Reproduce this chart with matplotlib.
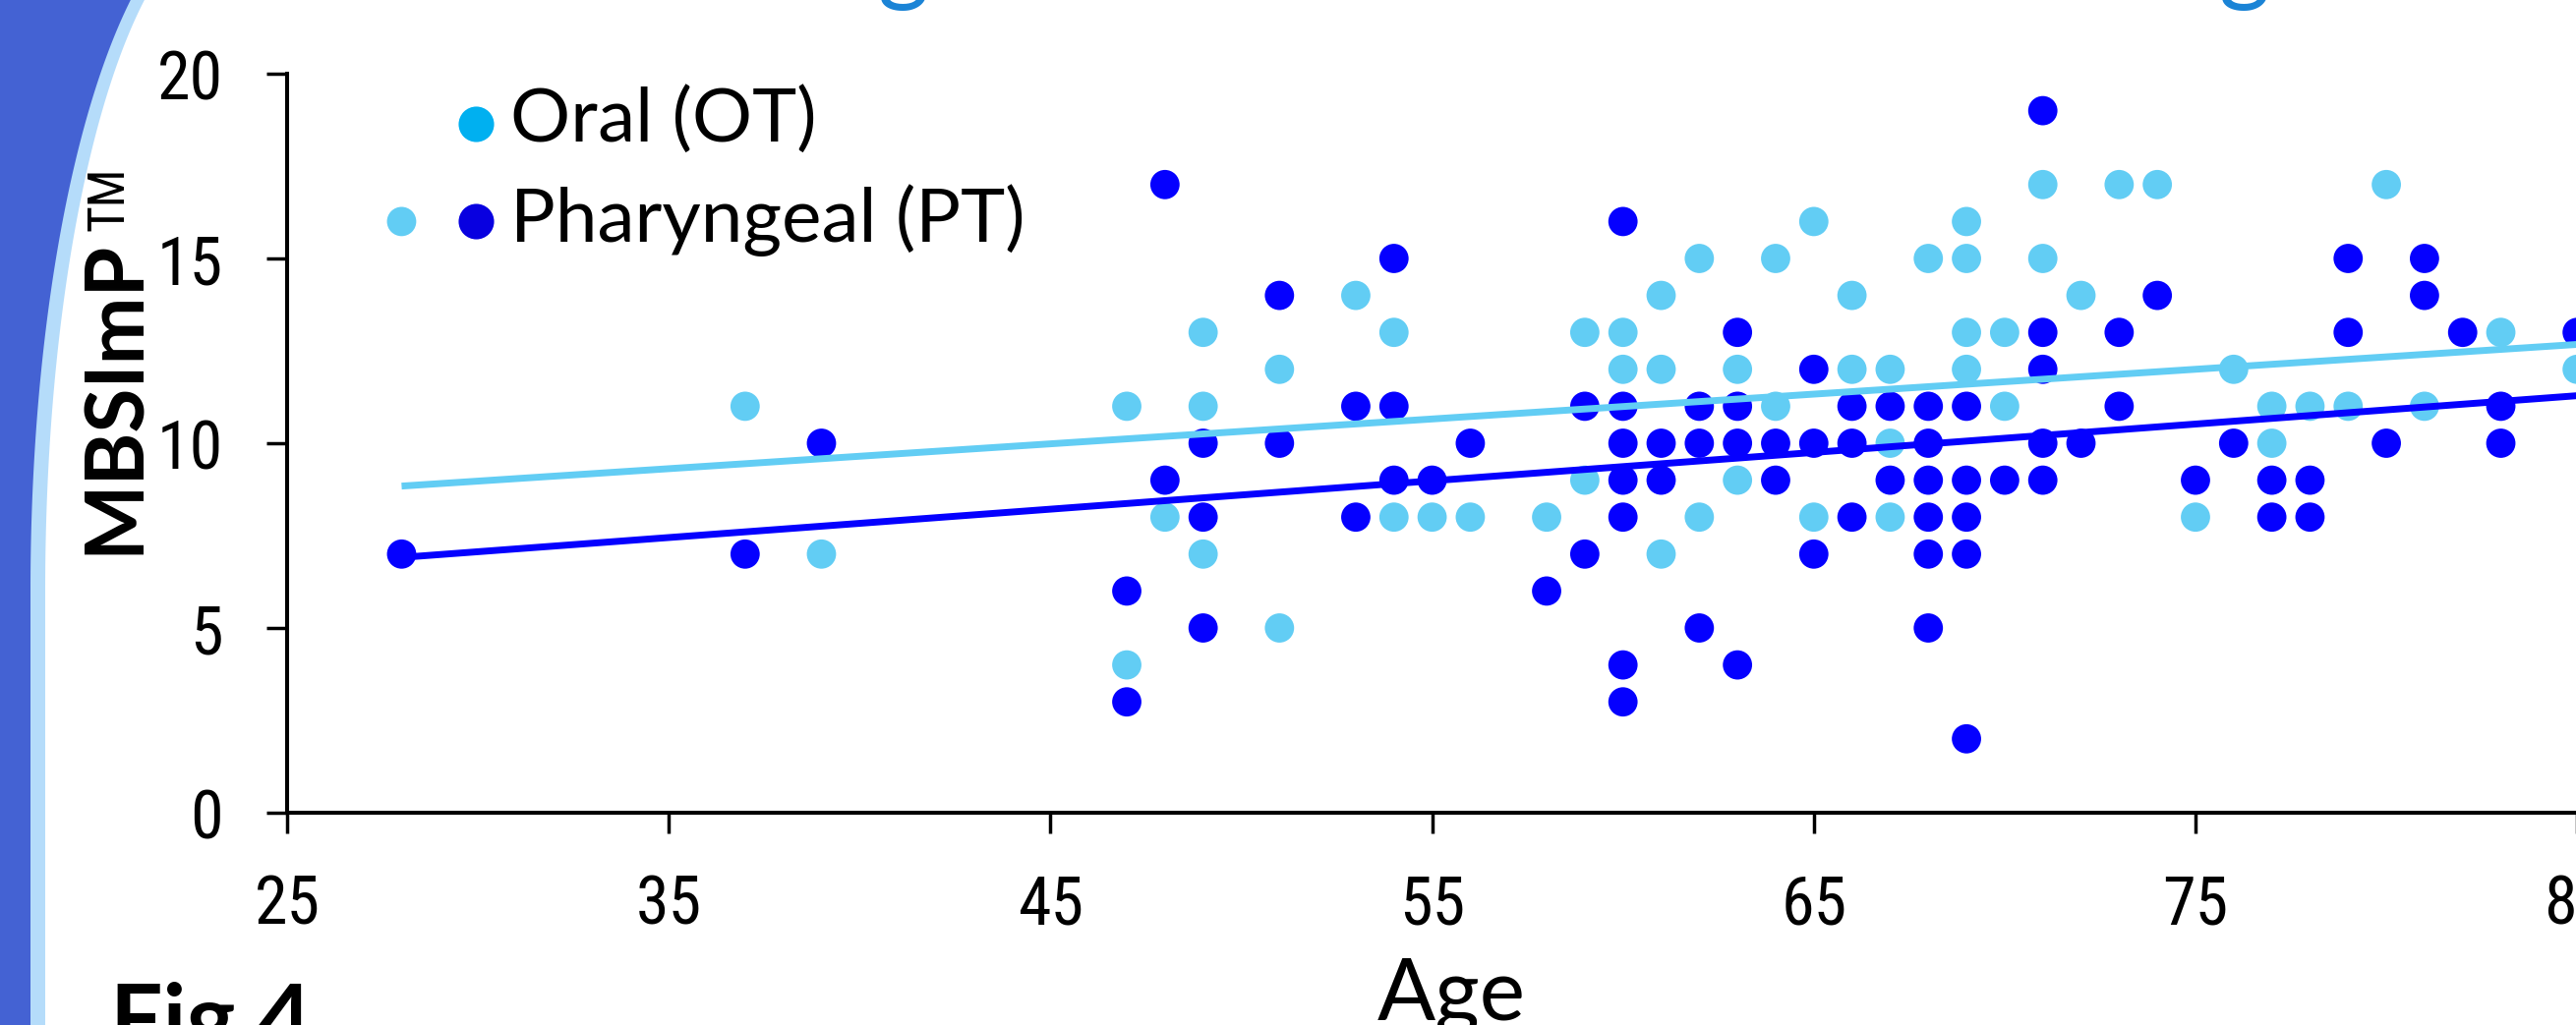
import numpy as np
import matplotlib
matplotlib.use("Agg")
import matplotlib.pyplot as plt
from matplotlib import font_manager
from matplotlib.patches import Polygon

# ---------------- data ----------------
ot_age = [28, 37, 39, 47, 47, 48, 49, 49, 49, 51, 51, 53, 54, 54, 55, 56, 58, 59, 59,
          60, 60, 61, 61, 61, 62, 62, 63, 63, 64, 64, 65, 65, 66, 66, 67, 67, 67, 68,
          69, 69, 69, 69, 70, 70, 71, 71, 72, 73, 74, 75, 76, 77, 77, 78, 79, 80, 81,
          83, 85]
ot_score = [16, 11, 7, 11, 4, 8, 13, 11, 7, 12, 5, 14, 13, 8, 8, 8, 8, 13, 9,
            13, 12, 14, 12, 7, 15, 8, 12, 9, 15, 11, 16, 8, 14, 12, 12, 10, 8, 15,
            16, 15, 13, 12, 13, 11, 17, 15, 14, 17, 17, 8, 12, 11, 10, 11, 11, 17, 11,
            13, 12]

pt_age = [28, 37, 39, 47, 47, 48, 48, 49, 49, 49, 51, 51, 53, 53, 54, 54, 54, 55, 56,
          58, 59, 59, 60, 60, 60, 60, 60, 60, 60, 61, 61, 62, 62, 62, 63, 63, 63, 63,
          64, 64, 65, 65, 65, 66, 66, 66, 67, 67, 68, 68, 68, 68, 68, 68, 69, 69, 69,
          69, 69, 70, 71, 71, 71, 71, 71, 72, 73, 73, 74, 75, 76, 77, 77, 78, 78, 79,
          79, 80, 81, 81, 82, 83, 83, 85]
pt_score = [7, 7, 10, 6, 3, 17, 9, 10, 8, 5, 14, 10, 11, 8, 15, 11, 9, 9, 10,
            6, 11, 7, 16, 11, 10, 9, 8, 4, 3, 10, 9, 11, 10, 5, 13, 11, 10, 4,
            10, 9, 12, 10, 7, 11, 10, 8, 11, 9, 11, 10, 9, 8, 7, 5, 11, 9, 8,
            7, 2, 9, 19, 13, 12, 10, 9, 10, 13, 11, 14, 9, 10, 9, 8, 9, 8, 15,
            13, 10, 15, 14, 13, 11, 10, 13]

# linear trend lines (end values)
trend_age = [28, 90]
ot_trend = [8.84, 13.01]
pt_trend = [6.91, 11.67]

x_ticks = [25, 35, 45, 55, 65, 75, 85]
y_ticks = [0, 5, 10, 15, 20]
legend_labels = ["Oral (OT)", "Pharyngeal (PT)"]
x_label = "Age"
y_label = "MBSImP"
y_label_mark = "TM"
fig_label = "Fig 4"

# ---------------- styles ----------------
LIGHT = "#62CDF4"
DARK = "#0500FF"
LEG_LIGHT = "#00B0F0"
LEG_DARK = "#0800E0"
BAND_DARK = "#4462D3"
BAND_LIGHT = "#B5DCFA"
TITLE_BLUE = "#1B84D6"

avail = {f.name for f in font_manager.fontManager.ttflist}


def pick(*names):
    for n in names:
        if n in avail:
            return n
    return "DejaVu Sans"


NARROW = pick("Liberation Sans Narrow", "Roboto Condensed", "Liberation Sans")
MAIN = pick("Lato", "Open Sans", "Noto Sans")

W, H, DPI = 2620, 1043, 100
fig = plt.figure(figsize=(W / DPI, H / DPI), dpi=DPI)
fig.patch.set_facecolor("white")

# background overlay in pixel coordinates (y from top)
bg = fig.add_axes([0, 0, 1, 1], zorder=0)
bg.set_xlim(0, W)
bg.set_ylim(H, 0)
bg.axis("off")


def edge(cx, cy, rx, ry, y):
    t = np.clip((cy - y) / ry, -1, 1)
    return cx - rx * np.sqrt(1 - t ** 2)


yy = np.linspace(600, -120, 300)
lx = edge(241, 600, 195, 685, yy)
dx = edge(241, 600, 210, 700, yy)
bg.add_patch(Polygon([(0, H + 20), (46, H + 20)] + list(zip(lx, yy)) + [(0, -120)],
                     closed=True, facecolor=BAND_LIGHT, edgecolor="none"))
bg.add_patch(Polygon([(0, H + 20), (31, H + 20)] + list(zip(dx, yy)) + [(0, -120)],
                     closed=True, facecolor=BAND_DARK, edgecolor="none"))

# cut-off title descenders at the top edge
for gx in (919, 2283):
    bg.text(gx, -7, "g", fontsize=72, color=TITLE_BLUE, ha="center", va="baseline",
            family=MAIN)

# main axes
ax = fig.add_axes([292 / W, (H - 827) / H, 2368 / W, 752 / H], zorder=2)
ax.patch.set_alpha(0)

ax.scatter(ot_age, ot_score, s=460, color=LIGHT, edgecolors="none", zorder=2)
ax.scatter(pt_age, pt_score, s=460, color=DARK, edgecolors="none", zorder=2)
ax.plot(trend_age, ot_trend, color=LIGHT, lw=5, solid_capstyle="butt", zorder=3)
ax.plot(trend_age, pt_trend, color=DARK, lw=5, solid_capstyle="butt", zorder=3)

ax.set_xlim(25, 86)
ax.set_ylim(0, 20)
ax.set_xticks(x_ticks)
ax.set_yticks(y_ticks)
for s in ("top", "right"):
    ax.spines[s].set_visible(False)
for s in ("left", "bottom"):
    ax.spines[s].set_linewidth(2.9)
    ax.spines[s].set_color("black")
ax.tick_params(direction="out", length=15, width=2.5, labelsize=49, colors="black")
ax.tick_params(axis="x", pad=29)
ax.tick_params(axis="y", pad=32)
for lbl in ax.get_xticklabels() + ax.get_yticklabels():
    lbl.set_fontfamily(NARROW)

ax.set_xlabel(x_label, fontsize=63, family=MAIN)
ax.xaxis.set_label_coords(0.5, (827 - 975) / 752)
ax.set_ylabel(y_label, fontsize=59, fontweight="bold", family=MAIN)
ax.yaxis.set_label_coords((155 - 292) / 2368, (827 - 403.5) / 752)

# legend (manual layout to match the original)
leg_rows = [(126, 144, LEG_LIGHT), (225, 246, LEG_DARK)]
for (my, by, col), lab in zip(leg_rows, legend_labels):
    bg.plot([484], [my], "o", ms=26, color=col, mec="none", zorder=5)
    bg.text(519, by, lab, fontsize=55, family=MAIN, ha="left", va="baseline", zorder=5)

bg.text(112, 999, fig_label, fontsize=68, fontweight="bold", family=MAIN,
        ha="left", va="top")

# "TM" mark after the y label
fig.canvas.draw()
bb = ax.yaxis.label.get_window_extent()
bg.text(111, (H - bb.y1) - 8, y_label_mark, fontsize=37, family=NARROW,
        rotation=90, ha="center", va="bottom")

fig.savefig("out.png", dpi=DPI)
